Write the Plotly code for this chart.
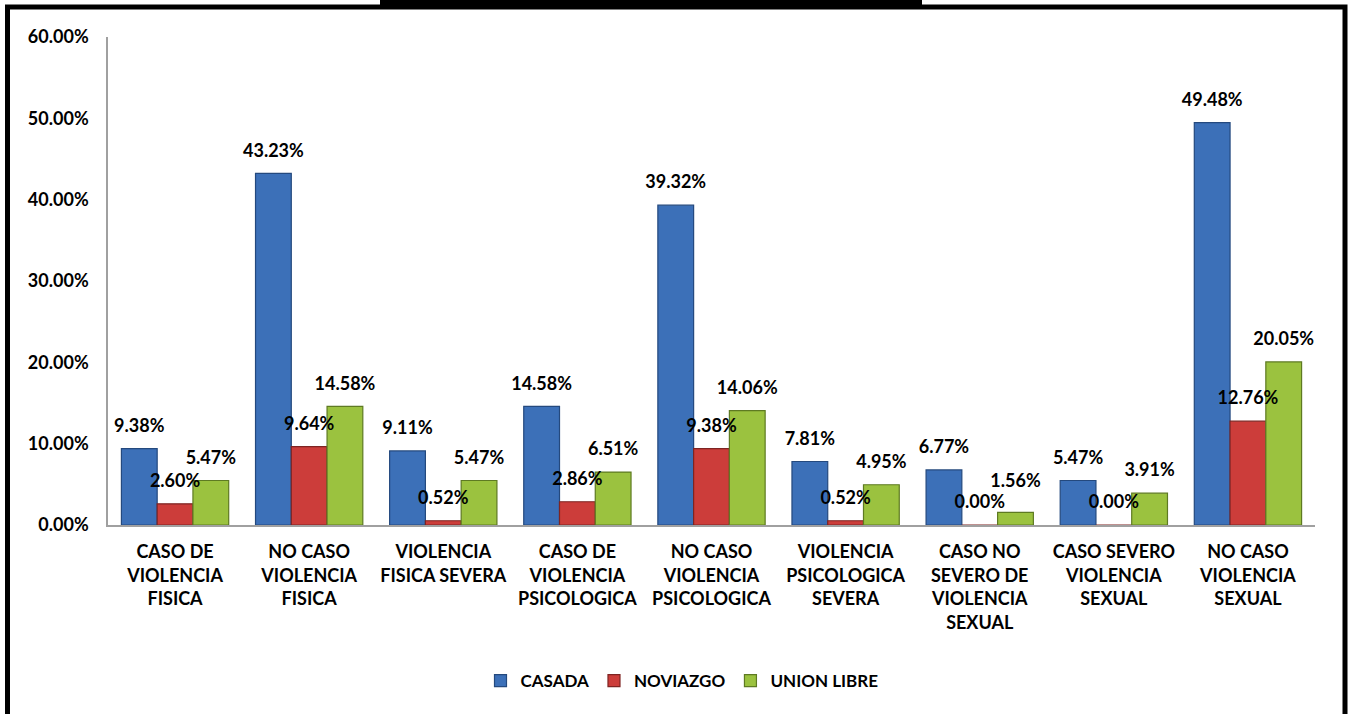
import plotly.graph_objects as go

categories = [
    "CASO DE<br>VIOLENCIA<br>FISICA",
    "NO CASO<br>VIOLENCIA<br>FISICA",
    "VIOLENCIA<br>FISICA SEVERA",
    "CASO DE<br>VIOLENCIA<br>PSICOLOGICA",
    "NO CASO<br>VIOLENCIA<br>PSICOLOGICA",
    "VIOLENCIA<br>PSICOLOGICA<br>SEVERA",
    "CASO NO<br>SEVERO DE<br>VIOLENCIA<br>SEXUAL",
    "CASO SEVERO<br>VIOLENCIA<br>SEXUAL",
    "NO CASO<br>VIOLENCIA<br>SEXUAL",
]
casada = [9.38, 43.23, 9.11, 14.58, 39.32, 7.81, 6.77, 5.47, 49.48]
noviazgo = [2.60, 9.64, 0.52, 2.86, 9.38, 0.52, 0.00, 0.00, 12.76]
union_libre = [5.47, 14.58, 5.47, 6.51, 14.06, 4.95, 1.56, 3.91, 20.05]

# label offset (invisible marker size) per point; one label sits higher in the reference
label_pad = {
    "CASADA": [18] * 9,
    "NOVIAZGO": [18] * 9,
    "UNION LIBRE": [18, 18, 18, 18, 18, 18, 32, 18, 18],
}

series = [
    ("CASADA", casada, "#3C70B8", "#24497E"),
    ("NOVIAZGO", noviazgo, "#CC3D3A", "#7E2422"),
    ("UNION LIBRE", union_libre, "#9BC23F", "#5E7A22"),
]

FONT = "Lato"
WEIGHT = "bold"
fig = go.Figure()
for name, vals, col, edge in series:
    fig.add_trace(go.Bar(
        x=categories, y=vals, name=name,
        marker=dict(color=col, line=dict(color=edge, width=1.2)),
        hoverinfo="skip",
    ))
for name, vals, col, edge in series:
    fig.add_trace(go.Scatter(
        x=categories, y=vals, mode="markers+text", showlegend=False,
        text=[f"{v:.2f}%" for v in vals], textposition="top center",
        textfont=dict(family=FONT, size=18, color="black", weight=WEIGHT),
        marker=dict(size=label_pad[name], opacity=0), hoverinfo="skip", cliponaxis=False,
    ))

W, H = 1348, 714
L, R, T, B = 108, 1315, 37, 525
pw, ph = R - L, B - T
def px(x):
    return (x - L) / pw
def py(y):
    return (B - y) / ph

fig.update_layout(
    width=W, height=H,
    margin=dict(l=L, r=W - R, t=T, b=H - B),
    barmode="group", bargap=0.2, bargroupgap=0,
    scattermode="group", scattergap=0.2,
    paper_bgcolor="white", plot_bgcolor="white",
    font=dict(family=FONT, size=18, color="black"),
    showlegend=True,
    legend=dict(orientation="h", x=px(682), xanchor="center", y=py(681), yanchor="middle",
                font=dict(family=FONT, size=17, color="black", weight=WEIGHT),
                itemwidth=30, traceorder="normal"),
    xaxis=dict(showline=True, linecolor="#A0A0A0", linewidth=1.5, ticks="",
               tickfont=dict(family=FONT, size=18, color="black", weight=WEIGHT),
               showgrid=False, zeroline=False, ticklabelstandoff=10),
    yaxis=dict(range=[0, 60], dtick=10, tickformat=".2f", ticksuffix="%",
               showline=True, linecolor="#A0A0A0", linewidth=1.5, ticks="",
               tickfont=dict(family=FONT, size=18, color="black", weight=WEIGHT),
               showgrid=False, zeroline=False, ticklabelstandoff=14),
    shapes=[
        dict(type="rect", xref="paper", yref="paper",
             x0=px(7.5), x1=px(1345), y0=py(7), y1=py(730),
             line=dict(color="black", width=5), fillcolor="rgba(0,0,0,0)", layer="above"),
        dict(type="rect", xref="paper", yref="paper",
             x0=px(380), x1=px(922), y0=py(-5), y1=py(9),
             line=dict(width=0), fillcolor="black", layer="above"),
    ],
)

fig.write_html("out.html", config={"displayModeBar": False},
               post_script="document.body.style.margin='0';")
